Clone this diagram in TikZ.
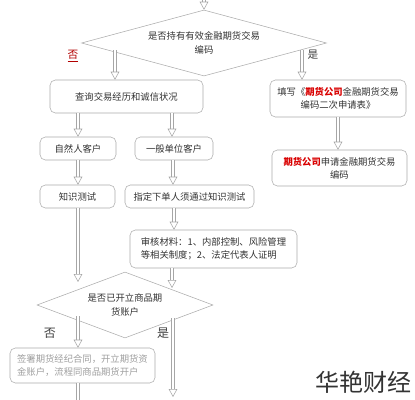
\documentclass[tikz,border=0pt]{standalone}
\usepackage{fontspec}
\setmainfont{Noto Sans CJK SC}
\usetikzlibrary{shapes.geometric,arrows.meta}
\newcommand{\px}{0.75pt}
\tikzset{
  box/.style={draw=gray!65, rounded corners=4pt, inner sep=0pt, text=black!80,
    font=\fontsize{7}{10}\selectfont, align=center},
  ask/.style={draw=gray!65, diamond, inner sep=0pt, text=black!80,
    font=\fontsize{7}{10}\selectfont, align=center},
  blockarr/.style={draw=gray!70, line width=0.4pt, double=white, double distance=2.2pt,
    -{Triangle[open, length=6pt, width=6.5pt, line width=0.4pt]}},
  plainarr/.style={draw=gray!70, line width=0.4pt, double=white, double distance=2.2pt},
  tag/.style={text=black!75, font=\fontsize{8}{10}\selectfont, inner sep=0pt}
}
\begin{document}
\begin{tikzpicture}[x=0.75pt, y=-0.75pt]
  \clip (0,0) rectangle (415,400);
  \fill[white] (0,0) rectangle (415,400);

  % Decisions
  \node[ask, minimum width=245*\px, minimum height=66*\px, aspect=3.7] (q1) at (204,43)
    {是否持有有效金融期货交易\\编码};
  \node[ask, minimum width=176*\px, minimum height=66*\px, aspect=2.7] (q2) at (125,305)
    {是否已开立商品期\\货账户};

  % Boxes
  \node[box, minimum width=153*\px, minimum height=33*\px] (chk) at (126.5,96.5)
    {查询交易经历和诚信状况};
  \node[box, minimum width=136*\px, minimum height=37*\px] (fill) at (338,98.5)
    {填写《\textcolor{red!85!black}{\bfseries 期货公司}金融期货交易\\编码二次申请表》};
  \node[box, minimum width=135*\px, minimum height=36*\px] (apply) at (339.5,168)
    {\textcolor{red!85!black}{\bfseries 期货公司}申请金融期货交易\\编码};
  \node[box, minimum width=76*\px, minimum height=23*\px] (person) at (78,148.5) {自然人客户};
  \node[box, minimum width=78*\px, minimum height=23*\px] (unit) at (174,148.5) {一般单位客户};
  \node[box, minimum width=75*\px, minimum height=23*\px] (test1) at (77.5,196.5) {知识测试};
  \node[box, minimum width=129*\px, minimum height=23*\px] (test2) at (189.5,196.5)
    {指定下单人须通过知识测试};
  \node[box, minimum width=167*\px, minimum height=38*\px, align=left] (audit) at (213.5,249)
    {审核材料：1、内部控制、风险管理\\等相关制度；2、法定代表人证明};
  \node[box, minimum width=145*\px, minimum height=35*\px, align=left, text=gray!75] (sign) at (82.5,365.5)
    {签署期货经纪合同，开立期货资\\金账户，流程同商品期货开户};

  % Free ends
  \coordinate (n0) at (204,-5);
  \coordinate (n1) at (115,50);
  \coordinate (n2) at (302,50);
  \coordinate (n3) at (78,282);
  \coordinate (n4) at (172,288);
  \coordinate (n5) at (78,316);
  \coordinate (n6) at (173,318);
  \coordinate (n7) at (173,397);
  \coordinate (n8) at (78,410);

  % Connectors
  \draw[blockarr] (n0) -- (q1.north);
  \draw[blockarr] (n1) -- (n1 |- chk.north);
  \draw[blockarr] (n2) -- (n2 |- fill.north);
  \draw[blockarr] (fill.south) -- (fill.south |- apply.north);
  \draw[blockarr] (person.north |- chk.south) -- (person.north);
  \draw[blockarr] ([xshift=-2*\px]unit.north |- chk.south) -- ([xshift=-2*\px]unit.north);
  \draw[blockarr] (person.south) -- (person.south |- test1.north);
  \draw[blockarr] ([xshift=-1*\px]unit.south) -- ([xshift=-1*\px]unit.south |- test2.north);
  \draw[blockarr] (unit.south |- test2.south) -- (unit.south |- audit.north);
  \draw[blockarr] (n3 |- test1.south) -- (n3);
  \draw[blockarr] (n4 |- audit.south) -- (n4);
  \draw[blockarr] (n5) -- (n5 |- sign.north);
  \draw[blockarr] (n6) -- (n7);
  \draw[plainarr] (n8 |- sign.south) -- (n8);

  % Labels
  \node[tag, text=red!70!black] (no1) at (73,56) {\underline{否}};
  \node[tag] (yes1) at (313,55) {是};
  \node[tag, font=\fontsize{9}{10}\selectfont] (no2) at (50,333) {否};
  \node[tag, font=\fontsize{9}{10}\selectfont] (yes2) at (163,333) {是};

  % Watermark
  \node[text=black!80, font=\fontsize{18}{20}\selectfont, inner sep=0pt] (mark) at (363,382) {华艳财经};
\end{tikzpicture}
\end{document}
